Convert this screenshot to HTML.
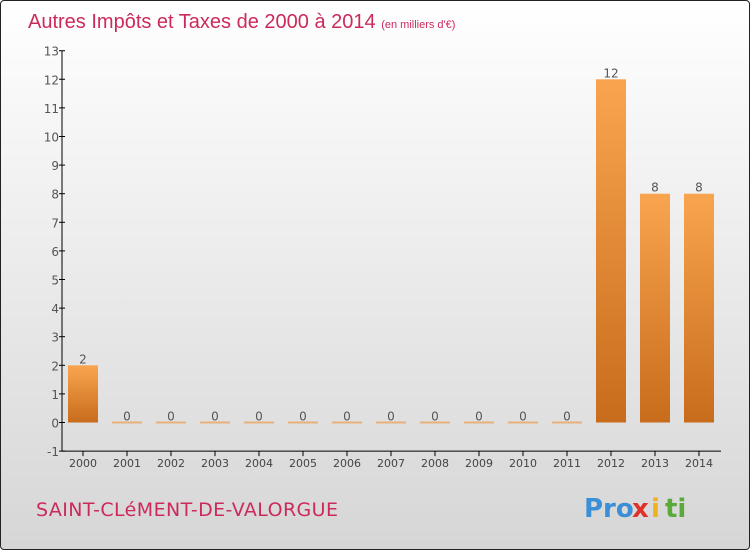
<!DOCTYPE html>
<html><head><meta charset="utf-8"><style>
body{margin:0;}
#c{width:750px;height:550px;position:relative;box-sizing:border-box;border:1px solid #222;border-radius:4px;background:linear-gradient(#ffffff,#d6d6d6);overflow:hidden;font-family:"DejaVu Sans","Liberation Sans",sans-serif;}
text{font-family:"DejaVu Sans","Liberation Sans",sans-serif;}
</style></head><body>
<div id="c">
<svg id="s" width="750" height="550">
<defs><linearGradient id="g" x1="0" y1="0" x2="0" y2="1"><stop offset="0" stop-color="#f9a54f"/><stop offset="1" stop-color="#c76c1b"/></linearGradient></defs>
<text x="27" y="27" font-size="20" fill="#cc2a5a" style="font-family:'Liberation Sans',sans-serif">Autres Impôts et Taxes de 2000 à 2014 <tspan font-size="11">(en milliers d'€)</tspan></text>
<text x="35" y="515" font-size="19" fill="#cc2a5a" textLength="302">SAINT-CLéMENT-DE-VALORGUE</text>
<g font-size="26" font-weight="bold">
<text x="583" y="516" fill="#3a8fd6">Pro</text><text x="631" y="516" fill="#e0302a">x</text><text x="650" y="516" fill="#f0b020">i</text><text x="664" y="516" fill="#5aaa3a">ti</text>
</g>
<g id="plot"></g>
</svg>
</div>
<script>
const categories=["2000","2001","2002","2003","2004","2005","2006","2007","2008","2009","2010","2011","2012","2013","2014"];
const values=[2,0,0,0,0,0,0,0,0,0,0,0,12,8,8];
const yTicks=[-1,0,1,2,3,4,5,6,7,8,9,10,11,12,13];
const NS="http://www.w3.org/2000/svg";
const g=document.getElementById('plot');
const x0=60,band=44,y=v=>421.5-v*28.6;
function mk(t,a){const e=document.createElementNS(NS,t);for(const k in a)e.setAttribute(k,a[k]);g.appendChild(e);return e;}
let e=mk('line',{x1:x0+1,y1:y(13),x2:x0+1,y2:y(-1),stroke:'#000'});


e=mk('line',{x1:x0+1,y1:y(-1),x2:x0+band*categories.length,y2:y(-1),stroke:'#000'});


yTicks.forEach(t=>{
 mk('line',{x1:x0-2,x2:x0+4,y1:y(t),y2:y(t),stroke:'#000'});
 const tx=mk('text',{x:x0-2,y:y(t)+5,'text-anchor':'end','font-size':12,fill:'#555'});tx.textContent=t;
 
 
});
categories.forEach((c,i)=>{
 const cx=x0+band*i+band/2;
 mk('line',{x1:cx,x2:cx,y1:y(-1),y2:y(-1)+5,stroke:'#000'});
 const tl=mk('text',{x:cx,y:466,'text-anchor':'middle','font-size':11,fill:'#444'});tl.textContent=c;
 
 
 const v=values[i];
 let b;
 if(v===0){b=mk('rect',{x:cx-15,y:y(0)-1,width:30,height:2,fill:'#e8b07a'});}
 else{b=mk('rect',{x:cx-15,y:y(v),width:30,height:y(0)-y(v),fill:'url(#g)'});}
 
 
 const vl=mk('text',{x:cx,y:y(v)-2,'text-anchor':'middle','font-size':12,fill:'#555'});vl.textContent=v;
 
 
});
</script>
</body></html>
